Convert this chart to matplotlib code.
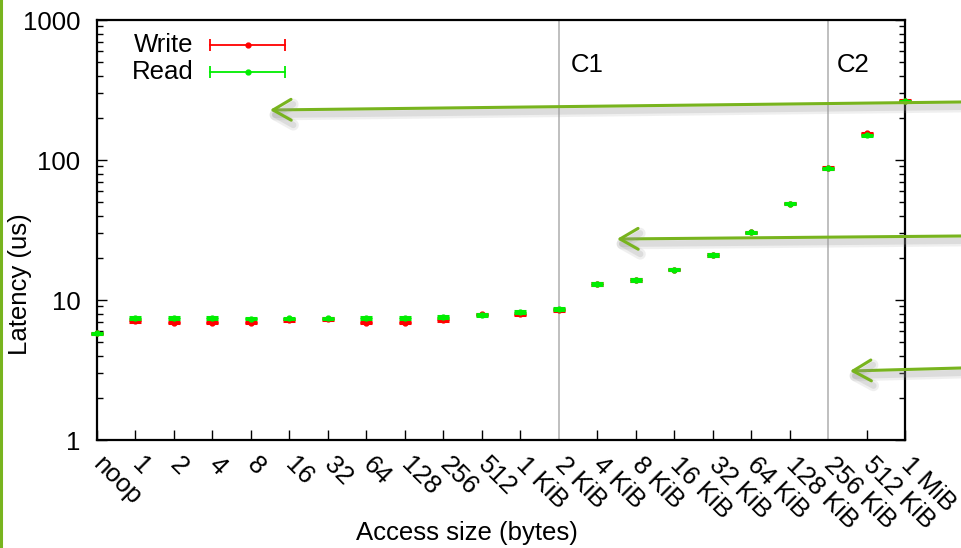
import matplotlib
matplotlib.use("Agg")
import matplotlib.pyplot as plt
import matplotlib.patheffects as pe
from matplotlib.lines import Line2D
import numpy as np

plt.rcParams["font.family"] = ["Liberation Sans", "DejaVu Sans"]

# access sizes on the x axis
sizes = ["noop", "1", "2", "4", "8", "16", "32", "64", "128", "256", "512",
         "1 KiB", "2 KiB", "4 KiB", "8 KiB", "16 KiB", "32 KiB", "64 KiB",
         "128 KiB", "256 KiB", "512 KiB", "1 MiB"]

# latency in microseconds
write_lat = [5.8, 7.1, 6.9, 6.9, 6.9, 7.2, 7.3, 6.9, 6.9, 7.2, 7.9,
             7.9, 8.5, 13.0, 13.9, 16.5, 21.0, 30.4, 48.7, 87.5, 155.0, 265.0]
read_lat = [5.8, 7.45, 7.45, 7.45, 7.35, 7.4, 7.4, 7.45, 7.45, 7.55, 7.8,
            8.2, 8.65, 13.0, 13.9, 16.5, 21.0, 30.4, 48.7, 87.2, 150.0, 262.0]
write_err = [0.05, 0.08, 0.08, 0.08, 0.08, 0.08, 0.08, 0.08, 0.08, 0.08, 0.09,
             0.09, 0.1, 0.15, 0.15, 0.2, 0.25, 0.35, 0.5, 1.0, 2.0, 3.0]
read_err = [0.05, 0.08, 0.08, 0.08, 0.08, 0.08, 0.08, 0.08, 0.08, 0.08, 0.09,
            0.09, 0.1, 0.15, 0.15, 0.2, 0.25, 0.35, 0.5, 1.0, 2.0, 3.0]

# cache boundaries and where their labels sit (x offset in categories)
boundaries = {"C1": "2 KiB", "C2": "256 KiB"}
label_offsets = {"C1": 0.3, "C2": 0.22}

RED = "#ff0000"
GREEN = "#00ee00"
ARROW = "#78b41e"
FS = 18.5

W, H = 961, 548
fig = plt.figure(figsize=(W / 100, H / 100), dpi=100)
ax = fig.add_axes([97 / W, 1 - 440 / H, 808 / W, 420 / H])

x = np.arange(len(sizes))

for name, size in boundaries.items():
    xi = sizes.index(size)
    ax.axvline(xi, color="#b4b4b4", linewidth=1.2, zorder=1)
    ax.text(xi + label_offsets[name], 480, name, fontsize=FS,
            ha="left", va="center")

ax.errorbar(x, write_lat, yerr=write_err, fmt="o", color=RED, markersize=3.5,
            elinewidth=1.5, capsize=4.2, capthick=2.2, clip_on=False, zorder=3)
ax.errorbar(x, read_lat, yerr=read_err, fmt="o", color=GREEN, markersize=3.5,
            elinewidth=1.5, capsize=4.2, capthick=2.2, clip_on=False, zorder=4)

ax.set_yscale("log")
ax.set_ylim(1, 1000)
ax.set_xlim(0, len(sizes) - 1)
ax.set_yticks([1, 10, 100, 1000])
ax.set_yticklabels(["1", "10", "100", "1000"])
ax.set_xticks(x)
ax.set_xticklabels([])
for i, lab in enumerate(sizes):
    ax.annotate(lab, xy=(i, 0), xycoords=("data", "axes fraction"),
                xytext=(0, -15), textcoords="offset points",
                rotation=-45, rotation_mode="anchor", ha="left", va="center",
                fontsize=FS)

ax.tick_params(axis="y", which="major", direction="in", length=7, width=1,
               labelsize=FS, pad=12, right=True)
ax.tick_params(axis="y", which="minor", direction="in", length=4, width=1,
               right=True)
ax.tick_params(axis="x", which="major", direction="in", length=7, width=1,
               top=False)
for name, size in boundaries.items():
    ax.xaxis.get_major_ticks()[sizes.index(size)].tick1line.set_visible(False)
for sp in ax.spines.values():
    sp.set_linewidth(1.6)

fig.text(20 / W, 1 - 284 / H, "Latency (us)", fontsize=FS, rotation=90,
         ha="center", va="center")
fig.text(467 / W, 1 - 533 / H, "Access size (bytes)", fontsize=FS,
         ha="center", va="center")

# legend drawn by hand: horizontal error-bar sample
for ly, lab, col in [(0.940, "Write", RED), (0.876, "Read", GREEN)]:
    ax.text(0.119, ly, lab, transform=ax.transAxes, fontsize=FS,
            ha="right", va="center")
    ax.plot([0.140, 0.233], [ly, ly], color=col, linewidth=1.3,
            transform=ax.transAxes, clip_on=False)
    ax.plot([0.140, 0.233], [ly, ly], linestyle="none", marker="|",
            markersize=9, markeredgewidth=1.3, color=col,
            transform=ax.transAxes, clip_on=False)
    ax.plot([0.1865], [ly], linestyle="none", marker="o", markersize=3.5,
            color=col, transform=ax.transAxes, clip_on=False)

# green annotation arrows coming in from the right edge
arrows = [((270, 110), (961, 102)), ((617, 239), (961, 236)),
          ((850, 371), (961, 368))]
for (tx, ty), (sx, sy) in arrows:
    ann = fig.add_artist(plt.Annotation(
        "", xy=(tx / W, 1 - ty / H), xycoords="figure fraction",
        xytext=(sx / W, 1 - sy / H), textcoords="figure fraction",
        arrowprops=dict(arrowstyle="->,head_length=1.3,head_width=0.75",
                        color=ARROW, linewidth=2.2, shrinkA=0, shrinkB=0)))
    ann.arrow_patch.set_path_effects([
        pe.SimpleLineShadow(offset=(1.5, -3.5), shadow_color="#999999",
                            alpha=0.15, linewidth=8),
        pe.SimpleLineShadow(offset=(1.5, -3.5), shadow_color="#999999",
                            alpha=0.22, linewidth=4.5),
        pe.Normal()])

fig.add_artist(Line2D([0.0012, 0.0012], [0, 1], color=ARROW, linewidth=2.2,
                      transform=fig.transFigure))

fig.savefig("out.png", dpi=100)
